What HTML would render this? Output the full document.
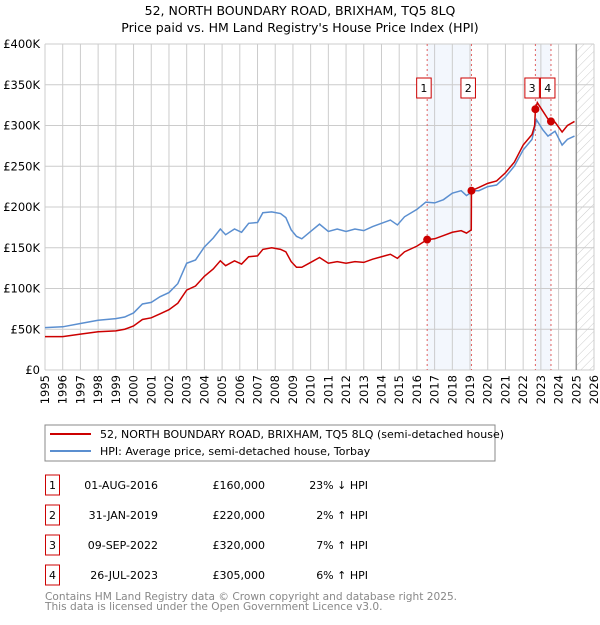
<!DOCTYPE html>
<html><head><meta charset="utf-8"><style>
body{margin:0;background:#fff;font-family:"Liberation Sans","DejaVu Sans",sans-serif;}
svg text{font-family:"DejaVu Sans","Liberation Sans",sans-serif;}
</style></head><body>
<svg id="c" width="600" height="620" xmlns="http://www.w3.org/2000/svg">
<defs><pattern id="hatch" width="6" height="6" patternUnits="userSpaceOnUse" patternTransform="rotate(45)"><line x1="0" y1="0" x2="0" y2="6" stroke="#ccc" stroke-width="1"/></pattern></defs>
<text x="300" y="15" text-anchor="middle" font-size="12.5">52, NORTH BOUNDARY ROAD, BRIXHAM, TQ5 8LQ</text>
<text x="300" y="32" text-anchor="middle" font-size="12.5">Price paid vs. HM Land Registry's House Price Index (HPI)</text>
<g id="plot"></g>
<rect x="45" y="425" width="450" height="36" fill="#fff" stroke="#888"/>
<line x1="50" y1="434" x2="91" y2="434" stroke="#cc0000" stroke-width="2"/>
<text x="100" y="438" font-size="11">52, NORTH BOUNDARY ROAD, BRIXHAM, TQ5 8LQ (semi-detached house)</text>
<line x1="50" y1="451" x2="91" y2="451" stroke="#5b8fd0" stroke-width="2"/>
<text x="100" y="455" font-size="11">HPI: Average price, semi-detached house, Torbay</text>
<g id="table" font-size="11"></g>
<text x="45" y="600" font-size="10.6" fill="#888">Contains HM Land Registry data © Crown copyright and database right 2025.</text>
<text x="45" y="610" font-size="10.6" fill="#888">This data is licensed under the Open Government Licence v3.0.</text>
</svg>
<script>
const hpiYears=[1995,1996,1997,1998,1999,1999.5,2000,2000.5,2001,2001.5,2002,2002.5,2003,2003.5,2004,2004.5,2004.9,2005.2,2005.7,2006.1,2006.5,2007,2007.3,2007.8,2008.3,2008.6,2008.9,2009.2,2009.5,2010,2010.5,2011,2011.5,2012,2012.5,2013,2013.5,2014,2014.5,2014.9,2015.3,2016,2016.5,2017,2017.5,2018,2018.5,2018.8,2019.2,2019.5,2020,2020.5,2021,2021.5,2022,2022.5,2022.75,2023.1,2023.4,2023.8,2024.2,2024.5,2024.9];
const hpiValues=[52,53,57,61,63,65,70,81,83,90,95,106,131,135,151,162,173,166,173,169,180,181,193,194,192,187,172,164,161,170,179,170,173,170,173,171,176,180,184,178,188,197,206,205,209,217,220,214,220,220,225,227,237,250,270,283,307,295,287,293,276,283,287];
const priceYears=[1995,1996,1997,1998,1999,1999.5,2000,2000.5,2001,2001.5,2002,2002.5,2003,2003.5,2004,2004.5,2004.9,2005.2,2005.7,2006.1,2006.5,2007,2007.3,2007.8,2008.3,2008.6,2008.9,2009.2,2009.5,2010,2010.5,2011,2011.5,2012,2012.5,2013,2013.5,2014,2014.5,2014.9,2015.3,2016,2016.58,2017,2017.5,2018,2018.5,2018.8,2019.07,2019.08,2019.5,2020,2020.5,2021,2021.5,2022,2022.5,2022.65,2022.69,2022.8,2023.1,2023.4,2023.57,2023.8,2024.2,2024.5,2024.9];
const priceValues=[41,41,44,47,48,50,54,62,64,69,74,82,98,103,115,124,134,128,134,130,139,140,148,150,148,145,133,126,126,132,138,131,133,131,133,132,136,139,142,137,145,152,160,161,165,169,171,168,172,220,224,229,232,242,255,276,289,300,320,328,318,308,305,304,292,300,305];
const saleLabels=["1","2","3","4"];
const saleYears=[2016.58,2019.08,2022.69,2023.57];
const saleValues=[160,220,320,305];
const saleDates=["01-AUG-2016","31-JAN-2019","09-SEP-2022","26-JUL-2023"];
const salePrices=["£160,000","£220,000","£320,000","£305,000"];
const saleHpi=["23% ↓ HPI","2% ↑ HPI","7% ↑ HPI","6% ↑ HPI"];
const yTicks=[0,50,100,150,200,250,300,350,400];
const yTickLabels=["£0","£50K","£100K","£150K","£200K","£250K","£300K","£350K","£400K"];
const xTicks=[1995,1996,1997,1998,1999,2000,2001,2002,2003,2004,2005,2006,2007,2008,2009,2010,2011,2012,2013,2014,2015,2016,2017,2018,2019,2020,2021,2022,2023,2024,2025,2026];

const X0=45,X1=594,Y0=370,Y1=44;
const xs=y=>X0+(y-1995)/(2026-1995)*(X1-X0);
const ys=v=>Y0-v/400*(Y0-Y1);
const NS="http://www.w3.org/2000/svg";
const plot=document.getElementById('plot');
function mk(tag,attrs,parent){const e=document.createElementNS(NS,tag);for(const k in attrs)e.setAttribute(k,attrs[k]);(parent||plot).appendChild(e);return e;}

let e;
e=mk('rect',{x:xs(saleYears[0]),y:Y1,width:xs(saleYears[1])-xs(saleYears[0]),height:Y0-Y1,fill:'#eef3fc',opacity:0.7});


e=mk('rect',{x:xs(saleYears[2]),y:Y1,width:xs(saleYears[3])-xs(saleYears[2]),height:Y0-Y1,fill:'#eef3fc',opacity:0.7});


e=mk('rect',{x:xs(2025),y:Y1,width:X1-xs(2025),height:Y0-Y1,fill:'url(#hatch)'});



yTicks.forEach((t,i)=>{
  e=mk('line',{x1:X0,x2:X1,y1:ys(t),y2:ys(t),stroke:'#ccc'});
  
  
  e=mk('text',{x:X0-5,y:ys(t)+4,'text-anchor':'end','font-size':'11.5'});
  e.textContent=yTickLabels[i];
  
  
});
xTicks.forEach(t=>{
  e=mk('line',{x1:xs(t),x2:xs(t),y1:Y1,y2:Y0,stroke:'#ccc'});
  
  
  e=mk('text',{x:0,y:0,'text-anchor':'end','font-size':'11.5',transform:`translate(${xs(t)+4},375) rotate(-90)`});
  e.textContent=t;
  
  
});
e=mk('line',{x1:xs(2025),x2:xs(2025),y1:Y1,y2:Y0,stroke:'#999','stroke-width':1.5});



saleYears.forEach((s,i)=>{
  e=mk('line',{x1:xs(s),x2:xs(s),y1:Y1,y2:Y0,stroke:'#e06060','stroke-dasharray':'2,3'});
  
  
});

e=mk('polyline',{points:hpiYears.map((y,i)=>xs(y)+','+ys(hpiValues[i])).join(' '),fill:'none',stroke:'#5b8fd0','stroke-width':1.5});


e=mk('polyline',{points:priceYears.map((y,i)=>xs(y)+','+ys(priceValues[i])).join(' '),fill:'none',stroke:'#cc0000','stroke-width':1.5});



saleYears.forEach((s,i)=>{
  e=mk('circle',{cx:xs(s),cy:ys(saleValues[i]),r:4,fill:'#cc0000'});
  
  
  const bx=xs(s)-10.5;
  e=mk('rect',{x:bx,y:78,width:14.5,height:20,fill:'#fff',stroke:'#cc0000'});
  
  
  e=mk('text',{x:bx+7.25,y:92,'text-anchor':'middle','font-size':'11'});
  e.textContent=saleLabels[i];
  
  
});

const tbl=document.getElementById('table');
saleLabels.forEach((l,i)=>{
  const cy=485+i*30;
  e=mk('rect',{x:45.5,y:cy-10,width:14,height:20,fill:'#fff',stroke:'#cc0000'},tbl);
  
  
  e=mk('text',{x:52.5,y:cy+4,'text-anchor':'middle'},tbl);e.textContent=l;
  
  
  e=mk('text',{x:158,y:cy+4,'text-anchor':'end'},tbl);e.textContent=saleDates[i];
  
  
  e=mk('text',{x:265,y:cy+4,'text-anchor':'end'},tbl);e.textContent=salePrices[i];
  
  
  e=mk('text',{x:368,y:cy+4,'text-anchor':'end'},tbl);e.textContent=saleHpi[i];
  
  
});
</script>
</body></html>
